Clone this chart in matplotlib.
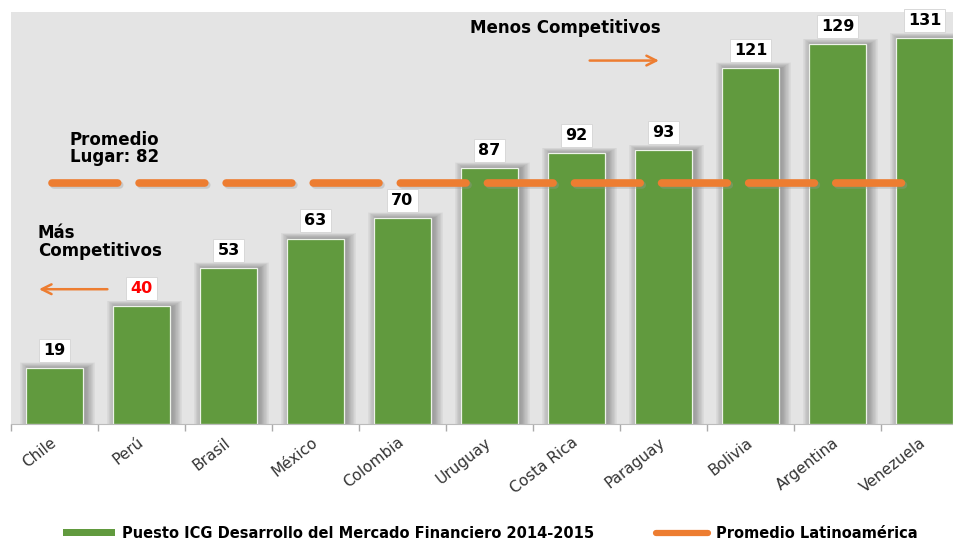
import matplotlib
matplotlib.use('Agg')
import matplotlib.pyplot as plt
from matplotlib.lines import Line2D
from matplotlib.patches import Patch

plt.rcParams['font.family'] = ['DejaVu Sans']

PAISES = ['Chile', 'Perú', 'Brasil', 'México', 'Colombia', 'Uruguay',
          'Costa Rica', 'Paraguay', 'Bolivia', 'Argentina', 'Venezuela']
PUESTO = [19, 40, 53, 63, 70, 87, 92, 93, 121, 129, 131]
PROMEDIO = 82

VERDE = '#619a3e'
NARANJA = '#ed7d31'
FONDO = '#e4e4e4'

fig = plt.figure(figsize=(9.54, 5.41), dpi=100)
ax = fig.add_axes([11 / 954, 117 / 541, 943 / 954, 412 / 541])
ax.set_facecolor(FONDO)
x = list(range(len(PAISES)))

# sombra difusa de las barras (capas superpuestas)
for k in range(1, 17):
    ax.bar([i + 0.035 for i in x], [v + 0.12 * k for v in PUESTO],
           width=0.65 + 0.0135 * k, color='black', alpha=0.021, linewidth=0, zorder=1)
ax.bar(x, PUESTO, width=0.65, color=VERDE, edgecolor='#eef3ea', linewidth=0.9, zorder=2)

# etiquetas de valores
for i, v in enumerate(PUESTO):
    col = 'red' if PAISES[i] == 'Perú' else 'black'
    ax.text(i, v + 6.0, str(v), ha='center', va='center', fontsize=11.5,
            fontweight='bold', color=col, zorder=5,
            bbox=dict(boxstyle='square,pad=0.25', fc='white', ec='#d8d8d8', lw=0.7))

# linea promedio
ax.plot([-0.01, 9.82], [PROMEDIO - 0.9, PROMEDIO - 0.9], color='#999999', alpha=0.35,
        lw=5.5, dashes=(8.6, 2.8), dash_capstyle='round', zorder=3)
ax.plot([-0.03, 9.80], [PROMEDIO, PROMEDIO], color=NARANJA, lw=5.5,
        dashes=(8.6, 2.8), dash_capstyle='round', zorder=4)

# anotaciones
ax.text(4.776, 134.7, 'Menos Competitivos', fontsize=12, fontweight='bold',
        va='center', ha='left')
ax.annotate('', xy=(6.98, 123.5), xytext=(6.12, 123.5),
            arrowprops=dict(arrowstyle='->,head_length=0.7,head_width=0.35',
                            color=NARANJA, lw=1.8))
ax.text(0.178, 93.7, 'Promedio\nLugar: 82', fontsize=12, fontweight='bold',
        va='center', ha='left', linespacing=0.95)
ax.text(-0.19, 61.8, 'Más\nCompetitivos', fontsize=12, fontweight='bold',
        va='center', ha='left', linespacing=0.95)
ax.annotate('', xy=(-0.21, 45.8), xytext=(0.64, 45.8),
            arrowprops=dict(arrowstyle='->,head_length=0.7,head_width=0.35',
                            color=NARANJA, lw=1.8))

ax.set_yticks([])
ax.set_xticks(x)
ax.set_xticklabels(PAISES, rotation=38, ha='right', va='center', rotation_mode='anchor',
                   fontsize=11, color='#333333')
ax.tick_params(axis='x', which='major', length=0, pad=12)
ax.set_xticks([i - 0.5 for i in range(len(PAISES) + 1)], minor=True)
ax.tick_params(axis='x', which='minor', length=5, color='#aaaaaa', width=1)
ax.set_xlim(-0.5, 10.34)
ax.set_ylim(0, 140)
for s in ['top', 'right', 'left']:
    ax.spines[s].set_visible(False)
ax.spines['bottom'].set_color('#bbbbbb')

handles = [Patch(facecolor=VERDE, edgecolor='none'),
           Line2D([0], [0], color=NARANJA, lw=4.5, solid_capstyle='round')]
leg = fig.legend(handles, ['Puesto ICG Desarrollo del Mercado Financiero 2014-2015',
                           'Promedio Latinoamérica'],
                 loc='center', bbox_to_anchor=(490 / 954, 8 / 541), ncol=2, frameon=False,
                 prop={'weight': 'bold', 'size': 10.5}, columnspacing=4.2,
                 handlelength=3.6, handleheight=0.4, handletextpad=0.5)

fig.savefig('out.png', dpi=100)
